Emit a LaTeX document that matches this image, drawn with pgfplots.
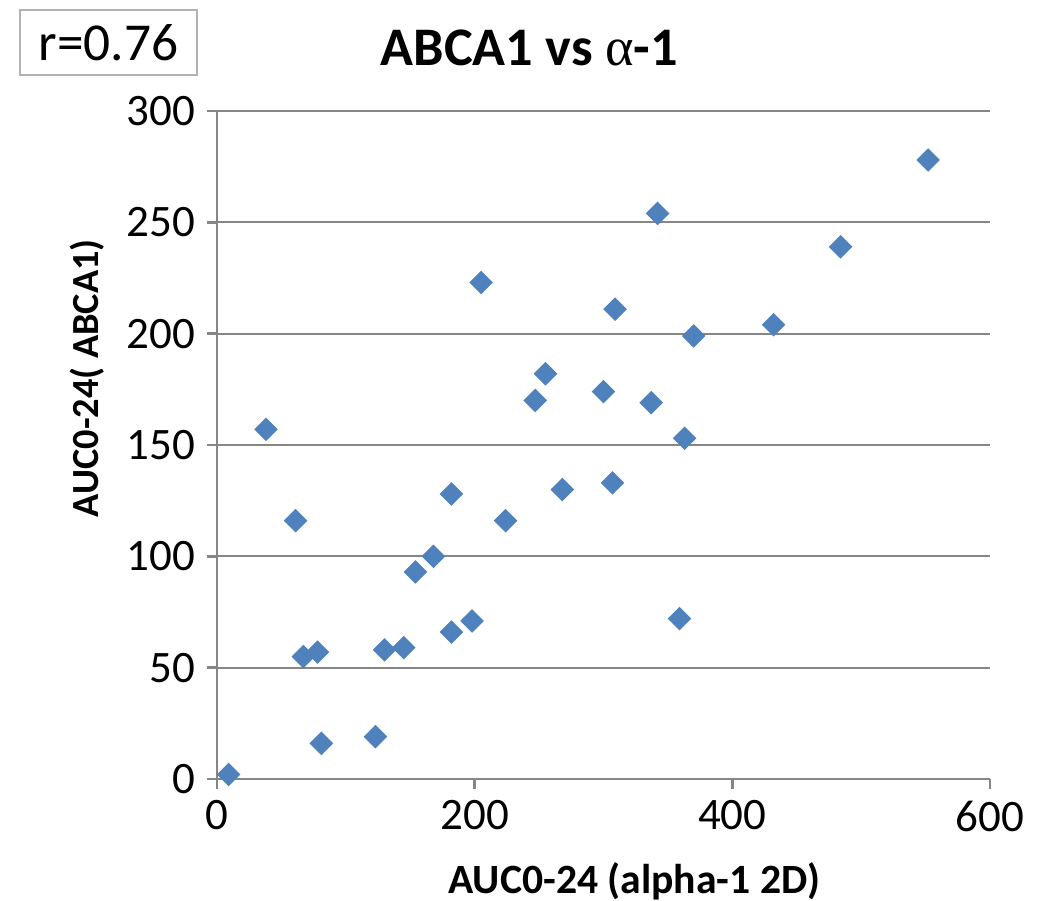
\documentclass[border=0pt]{standalone}
\usepackage{fontspec}
\setmainfont{Carlito}
\newfontfamily\greekfont{Liberation Serif}
\usepackage{pgfplots}
\pgfplotsset{compat=1.18}
\usetikzlibrary{calc}
\definecolor{excelblue}{HTML}{4F81BD}
\definecolor{axisgray}{HTML}{868686}
\begin{document}
\begin{tikzpicture}
\begin{axis}[
  name=a,
  scale only axis,
  width=231.9pt, height=200.4pt,
  xmin=0, xmax=600, ymin=0, ymax=300,
  xtick={0,200,400,600}, ytick={0,50,...,300},
  axis x line*=bottom, axis y line*=left,
  axis line style={axisgray, line width=0.8pt},
  tick style={axisgray, line width=0.8pt},
  tick align=outside, major tick length=3pt,
  ymajorgrids, grid style={axisgray, line width=0.6pt},
  tick label style={font=\fontsize{13.5}{15}\selectfont},
  /pgf/number format/assume math mode=true,
  xlabel={\bfseries AUC0-24 (alpha-1 2D)},
  ylabel={\bfseries AUC0-24( ABCA1)},
  xlabel style={font=\fontsize{12.5}{14}\selectfont, at={(ticklabel cs:0.54)}, yshift=-2.5pt},
  ylabel style={font=\fontsize{11.5}{13}\selectfont, at={(ticklabel cs:0.6)}, yshift=0pt},
  title={\bfseries ABCA1 vs {\greekfont\mdseries α}-1},
  title style={font=\fontsize{16.3}{18}\selectfont, at={(0.404,1)}, anchor=center, yshift=12.9pt},
  clip=false,
]
\addplot[only marks, mark=square*, mark size=2.3pt,
  mark options={rotate=45, fill=excelblue, draw=excelblue}] coordinates {
  (9,2) (38,157) (61,116) (67,55) (78,57) (81,16) (123,19) (130,58)
  (145,59) (154,93) (168,100) (182,128) (182,66) (198,71) (205,223)
  (224,116) (247,170) (255,182) (268,130) (300,174) (307,133) (309,211)
  (337,169) (342,254) (359,72) (363,153) (370,199) (432,204) (484,239)
  (552,278)
};
\end{axis}
\node[draw=gray!60, line width=0.6pt, minimum width=53.1pt, minimum height=19.5pt,
  font=\fontsize{16}{18}\selectfont, inner sep=0pt]
  at ($(a.south west)+(-32.55pt,220.95pt)$) {r=0.76};
\pgfresetboundingbox
\path[use as bounding box] ($(a.south west)+(-65.1pt,-36.6pt)$) rectangle ($(a.south west)+(248.7pt,233.7pt)$);
\end{tikzpicture}
\end{document}
